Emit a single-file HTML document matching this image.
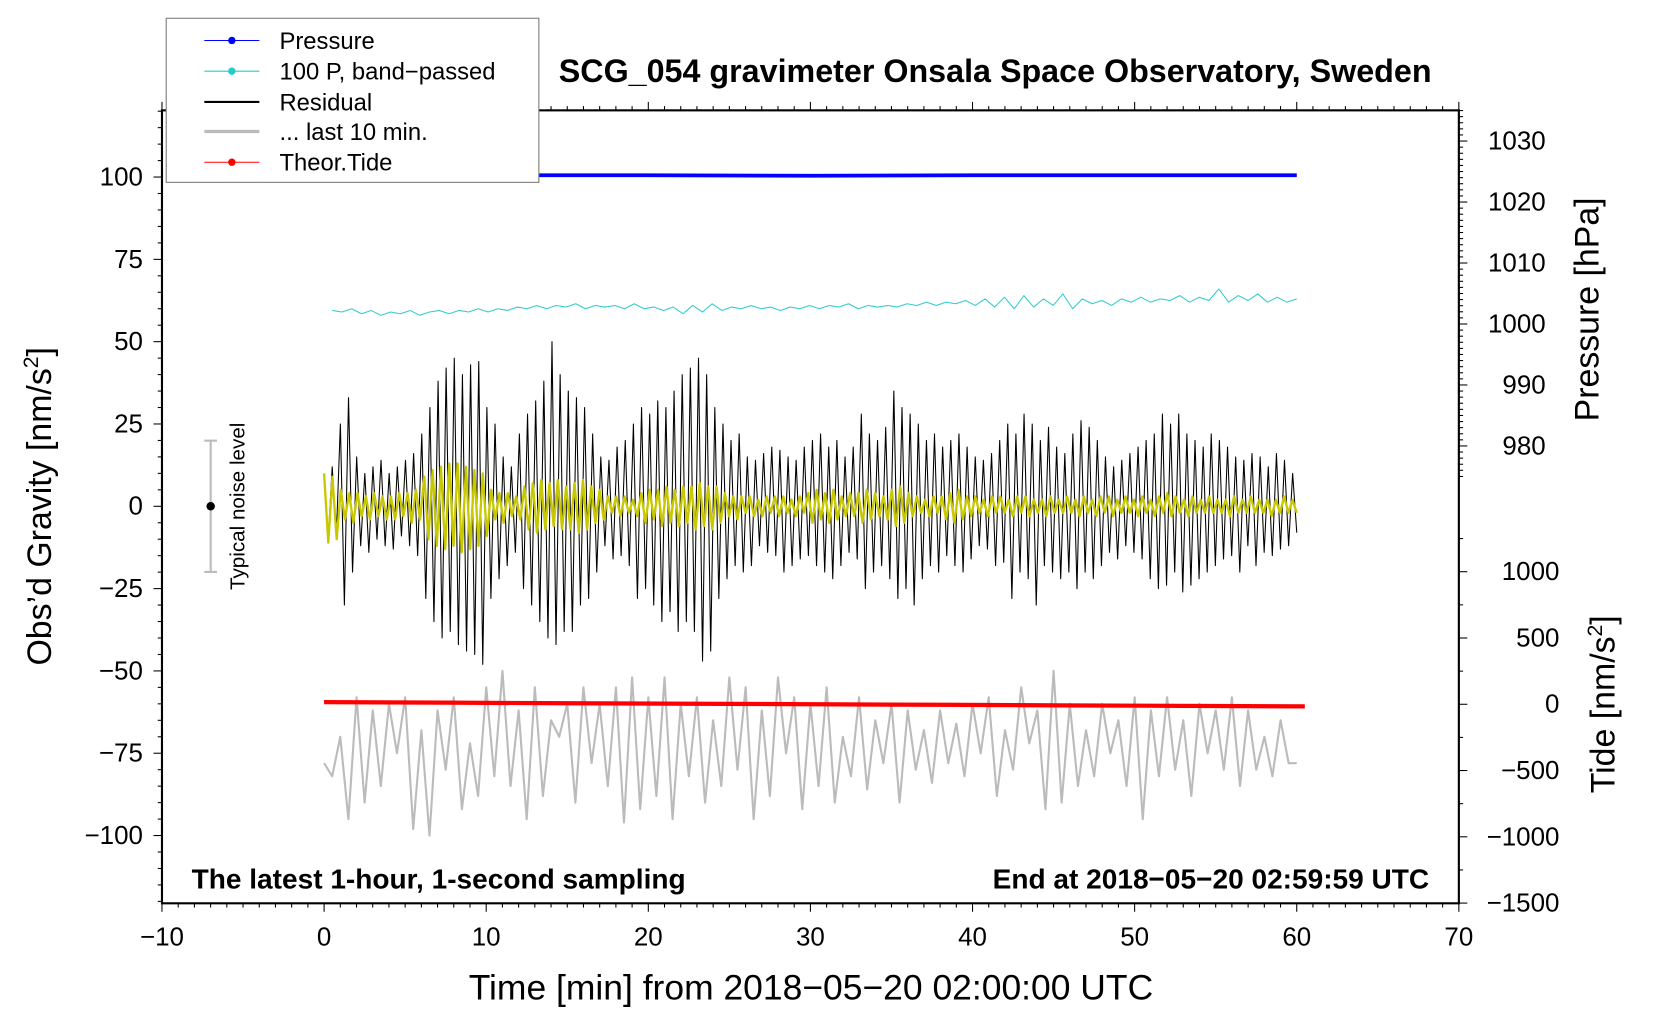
<!DOCTYPE html>
<html><head><meta charset="utf-8"><title>SCG_054 gravimeter</title>
<style>html,body{margin:0;padding:0;background:#fff}svg{display:block}text{font-family:"Liberation Sans",Arial,sans-serif}</style>
</head><body>
<svg id="chart" width="1660" height="1020" viewBox="0 0 1568 963" xmlns="http://www.w3.org/2000/svg">
<g id="marks"></g>
<g id="axes"></g>
<rect x="157" y="17" width="352" height="155" fill="#fff" stroke="#777" stroke-width="1"/>
<g font-size="22.5">
 <g><line x1="193" y1="38" x2="245" y2="38" stroke="#00f" stroke-width="1"/><circle cx="219" cy="38" r="3.5" fill="#00f"/><text x="264" y="46">Pressure</text></g>
 <g><line x1="193" y1="67" x2="245" y2="67" stroke="#2cc" stroke-width="1"/><circle cx="219" cy="67" r="3.5" fill="#2cc"/><text x="264" y="75">100 P, band−passed</text></g>
 <g><line x1="193" y1="96" x2="245" y2="96" stroke="#000" stroke-width="2"/><text x="264" y="104">Residual</text></g>
 <g><line x1="193" y1="124" x2="245" y2="124" stroke="#bbb" stroke-width="3"/><text x="264" y="132">... last 10 min.</text></g>
 <g><line x1="193" y1="153" x2="245" y2="153" stroke="#f00" stroke-width="1"/><circle cx="219" cy="153" r="3.5" fill="#f00"/><text x="264" y="161">Theor.Tide</text></g>
</g>
<text x="940" y="77" font-size="30.5" font-weight="bold" text-anchor="middle">SCG_054 gravimeter Onsala Space Observatory, Sweden</text>
<text x="181" y="839" font-size="26.5" font-weight="bold">The latest 1-hour, 1-second sampling</text>
<text x="1350" y="839" font-size="26.5" font-weight="bold" text-anchor="end">End at 2018−05−20 02:59:59 UTC</text>
<text x="766" y="944" font-size="33.5" text-anchor="middle">Time [min] from 2018−05−20 02:00:00 UTC</text>
<text transform="translate(48,478) rotate(-90)" font-size="32" text-anchor="middle">Obs’d Gravity [nm/s<tspan font-size="20" dy="-12">2</tspan><tspan dy="12">]</tspan></text>
<text transform="translate(1510,292) rotate(-90)" font-size="32" text-anchor="middle">Pressure [hPa]</text>
<text transform="translate(1525,665) rotate(-90)" font-size="32" text-anchor="middle">Tide [nm/s<tspan font-size="20" dy="-12">2</tspan><tspan dy="12">]</tspan></text>
<g>
 <line x1="199" y1="416" x2="199" y2="540" stroke="#bbb" stroke-width="2"/>
 <line x1="193" y1="416" x2="205" y2="416" stroke="#bbb" stroke-width="2"/>
 <line x1="193" y1="540" x2="205" y2="540" stroke="#bbb" stroke-width="2"/>
 <circle cx="199" cy="478" r="4" fill="#000"/>
 <text transform="translate(231,478) rotate(-90)" font-size="19.5" text-anchor="middle">Typical noise level</text>
</g>
</svg>
<script>
const residual=[8,-10,12,-9,25,-30,33,-20,15,-12,10,-14,12,-10,14,-12,10,-13,12,-9,14,-12,16,-15,22,-28,30,-35,38,-40,42,-38,45,-42,40,-44,43,-45,44,-48,30,-28,25,-22,15,-18,12,-14,22,-25,28,-30,32,-35,38,-40,50,-42,40,-38,35,-38,33,-30,30,-28,22,-20,15,-12,14,-16,18,-15,20,-18,25,-28,30,-25,28,-30,32,-35,30,-32,35,-38,40,-35,42,-38,45,-47,40,-44,30,-28,25,-22,20,-18,22,-20,15,-18,14,-12,16,-14,18,-15,17,-20,15,-18,14,-16,18,-15,20,-18,22,-20,18,-22,20,-18,15,-14,18,-16,28,-25,22,-20,20,-18,24,-22,35,-28,30,-25,28,-30,25,-22,20,-18,22,-20,18,-15,20,-18,22,-20,18,-16,15,-12,14,-13,16,-18,20,-17,25,-28,22,-20,28,-22,25,-30,20,-18,24,-20,18,-22,16,-20,22,-25,26,-20,24,-22,20,-18,15,-14,12,-16,14,-12,16,-14,18,-16,20,-22,22,-25,28,-24,25,-20,28,-26,22,-24,20,-22,18,-20,22,-18,20,-16,18,-15,15,-20,14,-12,16,-18,15,-14,12,-15,16,-13,14,-12,10,-8];
const filtered=[10,-11,9,-10,5,-4,4,-5,4,-3,3,-4,4,-3,3,-4,3,-4,4,-3,4,-5,5,-4,9,-10,11,-12,12,-13,13,-12,13,-14,12,-13,11,-12,10,-9,5,-4,4,-5,4,-3,3,-4,6,-7,7,-8,8,-7,7,-6,8,-7,6,-7,7,-8,8,-7,6,-5,5,-4,3,-2,3,-3,3,-2,2,-3,4,-5,5,-4,5,-6,6,-5,5,-6,6,-5,6,-7,7,-6,6,-7,6,-5,4,-3,3,-4,3,-2,3,-3,2,-3,3,-2,3,-3,3,-2,2,-3,3,-2,4,-5,5,-4,4,-5,5,-4,3,-3,4,-3,4,-5,5,-4,4,-3,3,-4,5,-6,6,-5,4,-3,3,-2,2,-3,3,-2,3,-4,4,-5,5,-4,3,-3,3,-2,2,-3,3,-2,3,-2,2,-3,3,-2,3,-3,2,-2,2,-3,3,-2,2,-2,3,-2,2,-3,3,-2,2,-3,3,-2,3,-3,2,-2,3,-2,2,-3,3,-2,2,-3,3,-2,4,-3,3,-2,2,-3,3,-2,2,-2,3,-2,2,-2,2,-3,3,-2,2,-2,3,-2,2,-2,2,-3,2,-2,3,-2,2,-2];
const last10=[-78,-82,-70,-95,-58,-90,-62,-85,-60,-75,-58,-98,-68,-100,-62,-80,-58,-92,-72,-88,-55,-82,-50,-85,-62,-95,-55,-88,-65,-70,-60,-90,-55,-78,-60,-85,-55,-96,-52,-92,-58,-88,-52,-95,-60,-82,-58,-90,-65,-85,-52,-80,-55,-95,-62,-88,-52,-75,-58,-92,-60,-85,-55,-90,-70,-82,-58,-86,-65,-78,-60,-90,-62,-80,-68,-84,-62,-78,-66,-82,-60,-75,-58,-88,-68,-80,-55,-72,-62,-92,-50,-90,-60,-85,-68,-82,-60,-75,-65,-85,-58,-95,-62,-82,-58,-80,-65,-88,-60,-75,-62,-80,-58,-85,-62,-80,-70,-82,-65,-78,-78];
const bandpassed=[59.5,59,60,58.5,59.5,58,59,58.5,59.5,58,59,59.5,58.5,59.5,59,60,59,60,59.5,60.5,60,61,60,61,60.5,61.5,60,61,60.5,61,60,61.5,60,60.5,59.5,60.5,58.5,61,59,61.5,59.5,60.5,60,61,60,60.5,59.5,60.5,60,61,60,61,60.5,61.5,60,61,60.5,61,60.5,61.5,61,62,61,62,61.5,62.5,61,63,60.5,63.5,60,64,60.5,63,61,64.5,60,63,61.5,62.5,61,63,62,63.5,62,63,62.5,64,62,63.5,62.5,66,62,64,62.5,64.5,62,63.5,62,63];
const pressure=[1024.3,1024.4,1024.4,1024.3,1024.4,1024.4,1024.4];
const tide=[16,12,8,4,0,-4,-8,-12,-16];
const xTicks=[-10,0,10,20,30,40,50,60,70];
const gTicks=[-100,-75,-50,-25,0,25,50,75,100];
const pTicks=[980,990,1000,1010,1020,1030];
const tTicks=[-1500,-1000,-500,0,500,1000];

const L=153,R=1378,T=104,B=853;
const X=m=>L+(m+10)*(R-L)/80;
const G=v=>478-v*3.11;
const P=v=>133+(1030-v)*5.76;
const TD=v=>665-v*0.1252;
const NS='http://www.w3.org/2000/svg';
const marks=document.getElementById('marks'),axes=document.getElementById('axes');
function mk(tag,parent){const e=document.createElementNS(NS,tag);parent.appendChild(e);return e;}
function series(arr,t0,t1,yf,color,w,name){
  const p=mk('polyline',marks);
  
  
  const n=arr.length;
  p.setAttribute('points',arr.map((v,i)=>X(t0+(t1-t0)*i/(n-1)).toFixed(1)+','+yf(v).toFixed(1)).join(' '));
  p.setAttribute('fill','none');p.setAttribute('stroke',color);p.setAttribute('stroke-width',w);p.setAttribute('stroke-linejoin','round');
}
series(pressure,0,60,P,'#00f',3.5,'pressure-line');
series(bandpassed,0.5,60,G,'#33cccc',1,'bandpassed-pressure-line');
series(last10,0,60,G,'#bbb',2,'last-10-min-line');
series(residual,0,60,G,'#000',1,'residual-line');
series(filtered,0,60,G,'#c8c800',2.2,'filtered-residual-line');
series(tide,0,60.5,TD,'#f00',4,'theoretical-tide-line');

const fr=mk('rect',axes);


fr.setAttribute('x',L);fr.setAttribute('y',T);fr.setAttribute('width',R-L);fr.setAttribute('height',B-T);
fr.setAttribute('fill','none');fr.setAttribute('stroke','#000');fr.setAttribute('stroke-width','2');
function ln(x1,y1,x2,y2,w){const l=mk('line',axes);l.setAttribute('x1',x1);l.setAttribute('y1',y1);l.setAttribute('x2',x2);l.setAttribute('y2',y2);l.setAttribute('stroke','#000');l.setAttribute('stroke-width',w||1);return l;}
function txt(x,y,s,anchor,name){const t=mk('text',axes);
  
  
  t.setAttribute('x',x);t.setAttribute('y',y);t.setAttribute('font-size','24.5');t.setAttribute('text-anchor',anchor);t.textContent=s;}
const fmt=v=>String(v).replace('-','−');
for(let m=-10;m<=70;m++){const x=X(m);const maj=m%10===0;ln(x,B,x,B+(maj?8:4));ln(x,T,x,T-(maj?8:4));}
xTicks.forEach(v=>txt(X(v),893,fmt(v),'middle','x-tick-label'));
for(let v=-120;v<=120;v+=5){const y=G(v);const maj=v%25===0;ln(L,y,L-(maj?8:4),y);}
gTicks.forEach(v=>txt(L-18,G(v)+8,fmt(v),'end','y-tick-label'));
for(let v=975;v<=1035;v++){const y=P(v);if(y<T)continue;const maj=v%10===0;ln(R,y,R+(maj?8:4),y);}
pTicks.forEach(v=>txt(1460,P(v)+8,fmt(v),'end','pressure-tick-label'));
for(let v=-1500;v<=1250;v+=250){const y=TD(v);if(y<P(975))continue;const maj=v%500===0;ln(R,y,R+(maj?8:4),y);}
tTicks.forEach(v=>txt(1473,TD(v)+8,fmt(v),'end','tide-tick-label'));
</script>
</body></html>
